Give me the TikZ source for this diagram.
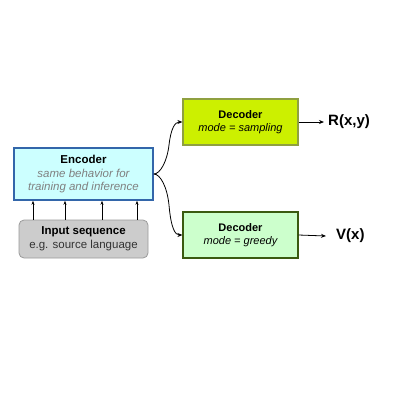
\documentclass[tikz,border=0pt]{standalone}
\usepackage{fontspec}
\setmainfont{Liberation Sans}
\usetikzlibrary{arrows.meta}
\definecolor{encfill}{HTML}{CCFFFF}
\definecolor{encdraw}{HTML}{3366AA}
\definecolor{inpfill}{HTML}{CCCCCC}
\definecolor{inpdraw}{HTML}{9A9A9A}
\definecolor{dAfill}{HTML}{CCF000}
\definecolor{dAdraw}{HTML}{8FA040}
\definecolor{dBfill}{HTML}{CCFFCC}
\definecolor{dBdraw}{HTML}{3A5A10}
\definecolor{subgray}{HTML}{808080}
\begin{document}
\begin{tikzpicture}[x=1pt,y=-1pt,
  box/.style={inner sep=0pt, align=center, font=\fontsize{11.5}{13}\selectfont},
  arr/.style={-{Stealth[length=5pt,width=4pt]}, line width=0.8pt},
  outlbl/.style={font=\fontsize{15}{17}\selectfont\bfseries, anchor=west, inner sep=0pt}]
\useasboundingbox (0,0) rectangle (400,400);
\node[box, draw=encdraw, line width=1.6pt, fill=encfill, minimum width=139pt, minimum height=52pt]
  (enc) at (83.5,174) {\textbf{Encoder}\\[1pt]{\color{subgray}\itshape same behavior for}\\{\color{subgray}\itshape training and inference}};
\node[box, draw=inpdraw, line width=0.8pt, fill=inpfill, rounded corners=5pt, minimum width=129pt, minimum height=38pt]
  (inp) at (83.5,239) {\textbf{Input sequence}\\[1pt]{\color{black!80}e.g. source language}};
\node[box, draw=dAdraw, line width=1.2pt, fill=dAfill, minimum width=115pt, minimum height=46pt,
  font=\fontsize{11}{12.5}\selectfont]
  (d1) at (240.5,122) {\textbf{Decoder}\\[1pt]\itshape mode = sampling};
\node[box, draw=dBdraw, line width=1.2pt, fill=dBfill, minimum width=115pt, minimum height=46pt,
  font=\fontsize{11}{12.5}\selectfont]
  (d2) at (240.5,235) {\textbf{Decoder}\\[1pt]\itshape mode = greedy};
\node[outlbl] (r) at (328,122) {R(x,y)};
\node[outlbl] (v) at (336,236) {V(x)};
\foreach \x in {33,65,102,137}
  \draw[arr, line width=0.6pt, -{Stealth[length=4pt,width=3pt]}] (inp.north -| \x,0) -- (enc.south -| \x,0);
\draw[arr] (enc.east) .. controls (160,174) and (167,162) .. (169,145)
  .. controls (171,128) and (175,122) .. (d1.west);
\draw[arr] (enc.east) .. controls (160,174) and (167,186) .. (169,205)
  .. controls (171,228) and (175,235) .. (d2.west);
\draw[arr] (d1.east) -- ([xshift=-4pt]r.west);
\draw[arr] (d2.east) -- ([xshift=-10pt]v.west);
\end{tikzpicture}
\end{document}
